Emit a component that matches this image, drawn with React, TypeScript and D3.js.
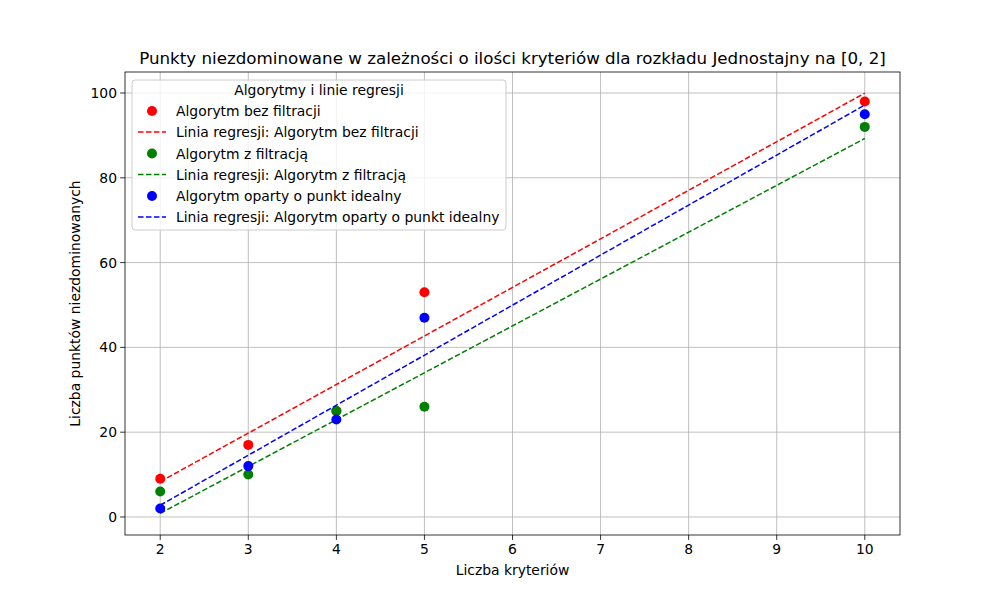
import * as d3 from 'd3';

const xs = [2, 3, 4, 5, 10];
const redVals = [9, 17, 25, 53, 98];
const greenVals = [6, 10, 25, 26, 92];
const blueVals = [2, 12, 23, 47, 95];
const xTicks = [2, 3, 4, 5, 6, 7, 8, 9, 10];
const yTicks = [0, 20, 40, 60, 80, 100];
const seriesNames = ['Algorytm bez filtracji', 'Algorytm z filtracją', 'Algorytm oparty o punkt idealny'];
const seriesColors = ['red', 'green', 'blue'];

const W = 1000, H = 600;
const m = { left: 125, right: 900, top: 72, bottom: 535 };
const font = 'DejaVu Sans, sans-serif';

function regress(ys: number[]) {
  const mx = d3.mean(xs)!, my = d3.mean(ys)!;
  const sxy = d3.sum(xs, (x, i) => (x - mx) * (ys[i] - my));
  const sxx = d3.sum(xs, (x) => (x - mx) ** 2);
  const b = sxy / sxx;
  return (x: number) => my + b * (x - mx);
}

export default function App() {
  const x = d3.scaleLinear().domain([1.6, 10.4]).range([m.left, m.right]);
  const y = d3.scaleLinear().domain([-4.25, 104.95]).range([m.bottom, m.top]);
  const series = [redVals, greenVals, blueVals];
  const xr = [d3.min(xs)!, d3.max(xs)!];

  return (
    <svg width={W} height={H} style={{ position: 'absolute', left: 0, top: 0 }} fontFamily={font}>
      <rect width={W} height={H} fill="white" />
      {xTicks.map((t) => (
        <g key={'x' + t}>
          <line x1={x(t)} x2={x(t)} y1={m.top} y2={m.bottom} stroke="#b0b0b0" strokeWidth={0.8} />
          <line x1={x(t)} x2={x(t)} y1={m.bottom} y2={m.bottom + 4.9} stroke="black" strokeWidth={0.8} />
          <text x={x(t)} y={m.bottom + 19} textAnchor="middle" fontSize={13.9}>{t}</text>
        </g>
      ))}
      {yTicks.map((t) => (
        <g key={'y' + t}>
          <line x1={m.left} x2={m.right} y1={y(t)} y2={y(t)} stroke="#b0b0b0" strokeWidth={0.8} />
          <line x1={m.left - 4.9} x2={m.left} y1={y(t)} y2={y(t)} stroke="black" strokeWidth={0.8} />
          <text x={m.left - 8} y={y(t) + 5} textAnchor="end" fontSize={13.9}>{t}</text>
        </g>
      ))}
      {series.map((ys, i) => {
        const f = regress(ys);
        return (
          <g key={i}>
            {xs.map((xv, j) => (
              <circle key={j} cx={x(xv)} cy={y(ys[j])} r={5} fill={seriesColors[i]} />
            ))}
            <line x1={x(xr[0])} y1={y(f(xr[0]))} x2={x(xr[1])} y2={y(f(xr[1]))}
              stroke={seriesColors[i]} strokeWidth={1.5} strokeDasharray="5.55 2.4" />
          </g>
        );
      })}
      <rect x={m.left} y={m.top} width={m.right - m.left} height={m.bottom - m.top} fill="none" stroke="black" strokeWidth={0.8} />
      <text x={(m.left + m.right) / 2} y={64} textAnchor="middle" fontSize={16.7}>
        Punkty niezdominowane w zależności o ilości kryteriów dla rozkładu Jednostajny na [0, 2]
      </text>
      <text x={(m.left + m.right) / 2} y={575} textAnchor="middle" fontSize={13.9}>Liczba kryteriów</text>
      <text transform={`translate(80,${(m.top + m.bottom) / 2}) rotate(-90)`} textAnchor="middle" fontSize={13.9}>
        Liczba punktów niezdominowanych
      </text>
      <g>
        <rect x={132} y={80} width={374} height={150} rx={3} fill="white" fillOpacity={0.8} stroke="#cccccc" />
        <text x={319} y={95} textAnchor="middle" fontSize={13.9}>Algorytmy i linie regresji</text>
        {seriesNames.map((n, i) => {
          const y0 = 111 + i * 42.5;
          return (
            <g key={n}>
              <circle cx={152} cy={y0} r={5} fill={seriesColors[i]} />
              <text x={176} y={y0 + 5} fontSize={13.9}>{n}</text>
              <line x1={138} x2={166} y1={y0 + 21} y2={y0 + 21} stroke={seriesColors[i]} strokeWidth={1.5} strokeDasharray="5.55 2.4" />
              <text x={176} y={y0 + 26} fontSize={13.9}>{'Linia regresji: ' + n}</text>
            </g>
          );
        })}
      </g>
    </svg>
  );
}
